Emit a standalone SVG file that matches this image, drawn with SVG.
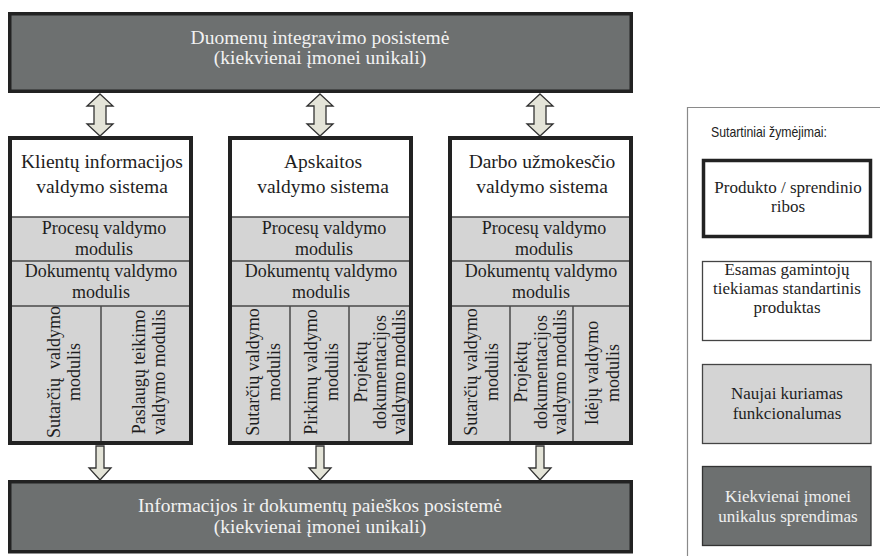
<svg xmlns="http://www.w3.org/2000/svg" width="880" height="556" viewBox="0 0 880 556">
  <style>
    .serif { font-family: "Liberation Serif", "Times New Roman", serif; }
    .bar { fill: #6d7070; stroke: #222; stroke-width: 3.5; }
    .bar-text { font-size: 19.5px; fill: #f2f2f2; text-anchor: middle; }
    .col { fill: none; stroke: #222; stroke-width: 4; }
    .head { fill: #ffffff; }
    .band { fill: #d4d4d4; }
    .sep { stroke: #4a4a4a; stroke-width: 1.5; fill: none; }
    .h-text { font-size: 19.5px; fill: #1e1e1e; text-anchor: middle; }
    .m-text { font-size: 18px; fill: #1e1e1e; text-anchor: middle; }
    .arrow { fill: #e4e4d8; stroke: #333; stroke-width: 1.3; stroke-linejoin: miter; }
    .lg-frame { fill: none; stroke: #8a8a8a; stroke-width: 1.2; }
    .lg-title { font-family: "Liberation Sans Narrow", "Liberation Sans", Arial, sans-serif; font-size: 14.5px; fill: #222; }
    .lg-text { font-size: 17px; fill: #1e1e1e; text-anchor: middle; }
    .lg-text-light { font-size: 17px; fill: #f0f0f0; text-anchor: middle; }
  </style>
  <defs>
    <path id="arrow-both" d="M0,94 L13,106 L6,106 L6,124 L13,124 L0,136 L-13,124 L-6,124 L-6,106 L-13,106 Z"/>
    <path id="arrow-down" d="M-4,446 L4,446 L4,468 L11,468 L0,480 L-11,468 L-4,468 Z"/>
  </defs>

  <rect width="880" height="556" fill="#ffffff"/>

  <!-- connectors -->
  <g id="connectors" class="arrow">
    <use href="#arrow-both" x="100"/>
    <use href="#arrow-both" x="320"/>
    <use href="#arrow-both" x="540"/>
    <use href="#arrow-down" x="100"/>
    <use href="#arrow-down" x="320"/>
    <use href="#arrow-down" x="540"/>
  </g>

  <!-- data integration subsystem -->
  <g id="integration">
    <rect class="bar" x="9.75" y="13.75" width="621.5" height="77.5"/>
    <text class="serif bar-text" x="320" y="44">Duomenų integravimo posistemė</text>
    <text class="serif bar-text" x="320" y="64">(kiekvienai įmonei unikali)</text>
  </g>

  <!-- client information management system -->
  <g id="crm">
    <rect class="head" x="10" y="138" width="181" height="79"/>
    <rect class="band" x="10" y="217" width="181" height="226"/>
    <path class="sep" d="M10,217 H191 M10,261 H191 M10,306 H191 M101,306 V443"/>
    <text class="serif h-text" x="102" y="168">Klientų informacijos</text>
    <text class="serif h-text" x="102" y="193">valdymo sistema</text>
    <text class="serif m-text" x="104" y="234">Procesų valdymo</text>
    <text class="serif m-text" x="104" y="255">modulis</text>
    <text class="serif m-text" x="101" y="277">Dokumentų valdymo</text>
    <text class="serif m-text" x="101" y="298">modulis</text>
    <g transform="translate(60,372) rotate(-90)">
      <text class="serif m-text" x="0" y="0">Sutarčių&#160; valdymo</text>
      <text class="serif m-text" x="0" y="20">modulis</text>
    </g>
    <g transform="translate(145,372) rotate(-90)">
      <text class="serif m-text" x="0" y="0">Paslaugų teikimo</text>
      <text class="serif m-text" x="0" y="20">valdymo modulis</text>
    </g>
    <rect class="col" x="10" y="138" width="181" height="305"/>
  </g>

  <!-- accounting management system -->
  <g id="accounting">
    <rect class="head" x="230" y="138" width="181" height="79"/>
    <rect class="band" x="230" y="217" width="181" height="226"/>
    <path class="sep" d="M230,217 H411 M230,261 H411 M230,306 H411 M290,306 V443 M349,306 V443"/>
    <text class="serif h-text" x="323" y="168">Apskaitos</text>
    <text class="serif h-text" x="323" y="193">valdymo sistema</text>
    <text class="serif m-text" x="324" y="234">Procesų valdymo</text>
    <text class="serif m-text" x="324" y="255">modulis</text>
    <text class="serif m-text" x="321" y="277">Dokumentų valdymo</text>
    <text class="serif m-text" x="321" y="298">modulis</text>
    <g transform="translate(259,372) rotate(-90)">
      <text class="serif m-text" x="0" y="0">Sutarčių valdymo</text>
      <text class="serif m-text" x="0" y="21">modulis</text>
    </g>
    <g transform="translate(317,372) rotate(-90)">
      <text class="serif m-text" x="0" y="0">Pirkimų valdymo</text>
      <text class="serif m-text" x="0" y="21">modulis</text>
    </g>
    <g transform="translate(367,372) rotate(-90)">
      <text class="serif m-text" x="0" y="0">Projektų</text>
      <text class="serif m-text" x="0" y="19">dokumentacijos</text>
      <text class="serif m-text" x="0" y="38">valdymo modulis</text>
    </g>
    <rect class="col" x="230" y="138" width="181" height="305"/>
  </g>

  <!-- payroll management system -->
  <g id="payroll">
    <rect class="head" x="450" y="138" width="181" height="79"/>
    <rect class="band" x="450" y="217" width="181" height="226"/>
    <path class="sep" d="M450,217 H631 M450,261 H631 M450,306 H631 M510,306 V443 M573,306 V443"/>
    <text class="serif h-text" x="542" y="168">Darbo užmokesčio</text>
    <text class="serif h-text" x="542" y="193">valdymo sistema</text>
    <text class="serif m-text" x="544" y="234">Procesų valdymo</text>
    <text class="serif m-text" x="544" y="255">modulis</text>
    <text class="serif m-text" x="541" y="277">Dokumentų valdymo</text>
    <text class="serif m-text" x="541" y="298">modulis</text>
    <g transform="translate(477,372) rotate(-90)">
      <text class="serif m-text" x="0" y="0">Sutarčių valdymo</text>
      <text class="serif m-text" x="0" y="21">modulis</text>
    </g>
    <g transform="translate(527,372) rotate(-90)">
      <text class="serif m-text" x="0" y="0">Projektų</text>
      <text class="serif m-text" x="0" y="19.5">dokumentacijos</text>
      <text class="serif m-text" x="0" y="39">valdymo modulis</text>
    </g>
    <g transform="translate(598,373) rotate(-90)">
      <text class="serif m-text" x="0" y="0">Idėjų valdymo</text>
      <text class="serif m-text" x="0" y="21">modulis</text>
    </g>
    <rect class="col" x="450" y="138" width="181" height="305"/>
  </g>

  <!-- information and document search subsystem -->
  <g id="search">
    <rect class="bar" x="9.75" y="481.75" width="621.5" height="70"/>
    <text class="serif bar-text" x="320" y="512">Informacijos ir dokumentų paieškos posistemė</text>
    <text class="serif bar-text" x="320" y="533">(kiekvienai įmonei unikali)</text>
  </g>

  <!-- legend -->
  <g id="legend">
    <path class="lg-frame" d="M687.5,556 V107.5 H880"/>
    <text class="lg-title" x="711" y="137" textLength="116" lengthAdjust="spacingAndGlyphs">Sutartiniai žymėjimai:</text>
    <g id="legend-boundary">
      <rect x="703.5" y="160.5" width="167" height="76" fill="#ffffff" stroke="#222" stroke-width="3.5"/>
      <text class="serif lg-text" x="788" y="193">Produkto / sprendinio</text>
      <text class="serif lg-text" x="788" y="212">ribos</text>
    </g>
    <g id="legend-standard">
      <rect x="702.5" y="261.5" width="168.5" height="79" fill="#ffffff" stroke="#444" stroke-width="1.3"/>
      <text class="serif lg-text" x="787" y="275">Esamas gamintojų</text>
      <text class="serif lg-text" x="787" y="294">tiekiamas standartinis</text>
      <text class="serif lg-text" x="787" y="313">produktas</text>
    </g>
    <g id="legend-new">
      <rect x="702.5" y="364.5" width="168.5" height="79" fill="#d4d4d4" stroke="#444" stroke-width="1.3"/>
      <text class="serif lg-text" x="787" y="399">Naujai kuriamas</text>
      <text class="serif lg-text" x="787" y="419">funkcionalumas</text>
    </g>
    <g id="legend-unique">
      <rect x="702.5" y="466.5" width="168.5" height="79" fill="#6d7070" stroke="#333" stroke-width="1.3"/>
      <text class="serif lg-text-light" x="788" y="502">Kiekvienai įmonei</text>
      <text class="serif lg-text-light" x="788" y="522">unikalus sprendimas</text>
    </g>
  </g>
</svg>
